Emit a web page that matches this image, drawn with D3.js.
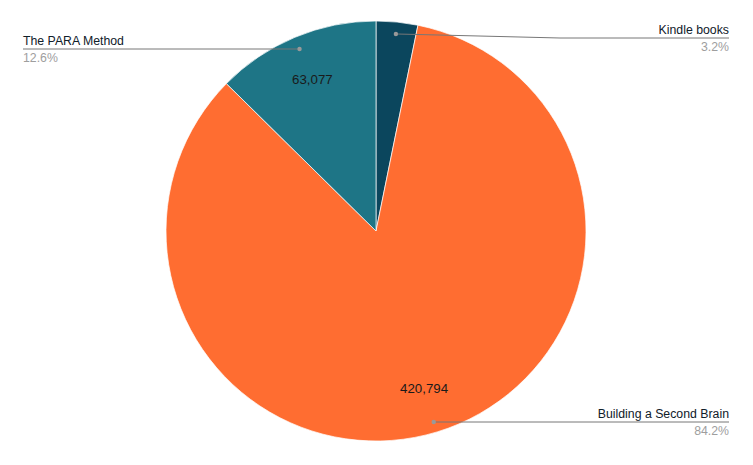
<!DOCTYPE html>
<html>
<head>
<meta charset="UTF-8">
<title>Book sales</title>
<script src="https://cdn.jsdelivr.net/npm/d3@7"></script>
<style>
  body { margin: 0; background: #fff; }
  text { font-family: Arial, "Liberation Sans", sans-serif; }
</style>
</head>
<body>
<div id="chart"></div>
<script>
    var labels = ["Kindle books", "Building a Second Brain", "The PARA Method"];
    var values = [16000, 420794, 63077];
    var colors = ["#0b465d", "#ff6d31", "#1e7586"];
    var showValue = [false, true, true];

    var width = 753, height = 465;
    var cx = 376, cy = 231, radius = 210;

    var svg = d3.select("#chart").append("svg")
        .attr("width", width).attr("height", height);

    var total = d3.sum(values);
    var data = labels.map(function (l, i) {
        return {label: l, value: values[i], color: colors[i], show: showValue[i]};
    });

    var pie = d3.pie().sort(null).value(function (d) { return d.value; });
    var arcs = pie(data);

    var arc = d3.arc().innerRadius(0).outerRadius(radius);
    var dotArc = d3.arc().innerRadius(radius * 0.943).outerRadius(radius * 0.943);
    var valArc = d3.arc().innerRadius(radius * 0.785).outerRadius(radius * 0.785);

    var g = svg.append("g").attr("transform", "translate(" + cx + "," + cy + ")");

    g.selectAll("path.slice")
        .data(arcs)
        .enter()
        .append("path")
        .attr("class", "slice")
        .attr("d", arc)
        .attr("fill", function (d) { return d.data.color; })
        .attr("stroke", "#fff")
        .attr("stroke-width", 0.7);

    g.selectAll("text.val")
        .data(arcs.filter(function (d) { return d.data.show; }))
        .enter()
        .append("text")
        .attr("class", "val")
        .attr("transform", function (d) { return "translate(" + valArc.centroid(d) + ")"; })
        .attr("text-anchor", "middle")
        .attr("dy", "0.35em")
        .attr("font-size", 13.3)
        .attr("fill", "#1a1a1a")
        .text(function (d) { return d3.format(",")(d.data.value); });

    // callout positions (absolute), per slice
    var callouts = {
        "Kindle books": {lineY: 38, bend: 560, x0: 560, x1: 729, anchor: "end"},
        "Building a Second Brain": {lineY: 422, bend: null, x0: 433, x1: 729, anchor: "end"},
        "The PARA Method": {lineY: 49, bend: null, x0: 23, x1: 300, anchor: "start"}
    };

    arcs.forEach(function (d) {
        var c = callouts[d.data.label];
        var p = dotArc.centroid(d);
        var dx = cx + p[0], dy = cy + p[1];
        var pts;
        if (c.anchor === "end") {
            pts = c.bend ? [[dx, dy], [c.bend, c.lineY], [c.x1, c.lineY]] : [[dx, c.lineY], [c.x1, c.lineY]];
        } else {
            pts = [[c.x0, c.lineY], [dx, c.lineY]];
        }
        svg.append("path")
            .attr("d", d3.line()(pts))
            .attr("fill", "none")
            .attr("stroke", "#777")
            .attr("stroke-width", 1);
        svg.append("circle")
            .attr("cx", dx).attr("cy", c.bend ? dy : c.lineY)
            .attr("r", 2.2)
            .attr("fill", "#999");

        var tx = c.anchor === "end" ? c.x1 : c.x0;
        svg.append("text")
            .attr("x", tx).attr("y", c.lineY - 4)
            .attr("text-anchor", c.anchor)
            .attr("font-size", 12.3)
            .attr("fill", "#10202a")
            .text(d.data.label);
        svg.append("text")
            .attr("x", tx).attr("y", c.lineY + 13)
            .attr("text-anchor", c.anchor)
            .attr("font-size", 12.3)
            .attr("fill", "#9e9e9e")
            .text(d3.format(".1%")(d.data.value / total));
    });
</script>
</body>
</html>
